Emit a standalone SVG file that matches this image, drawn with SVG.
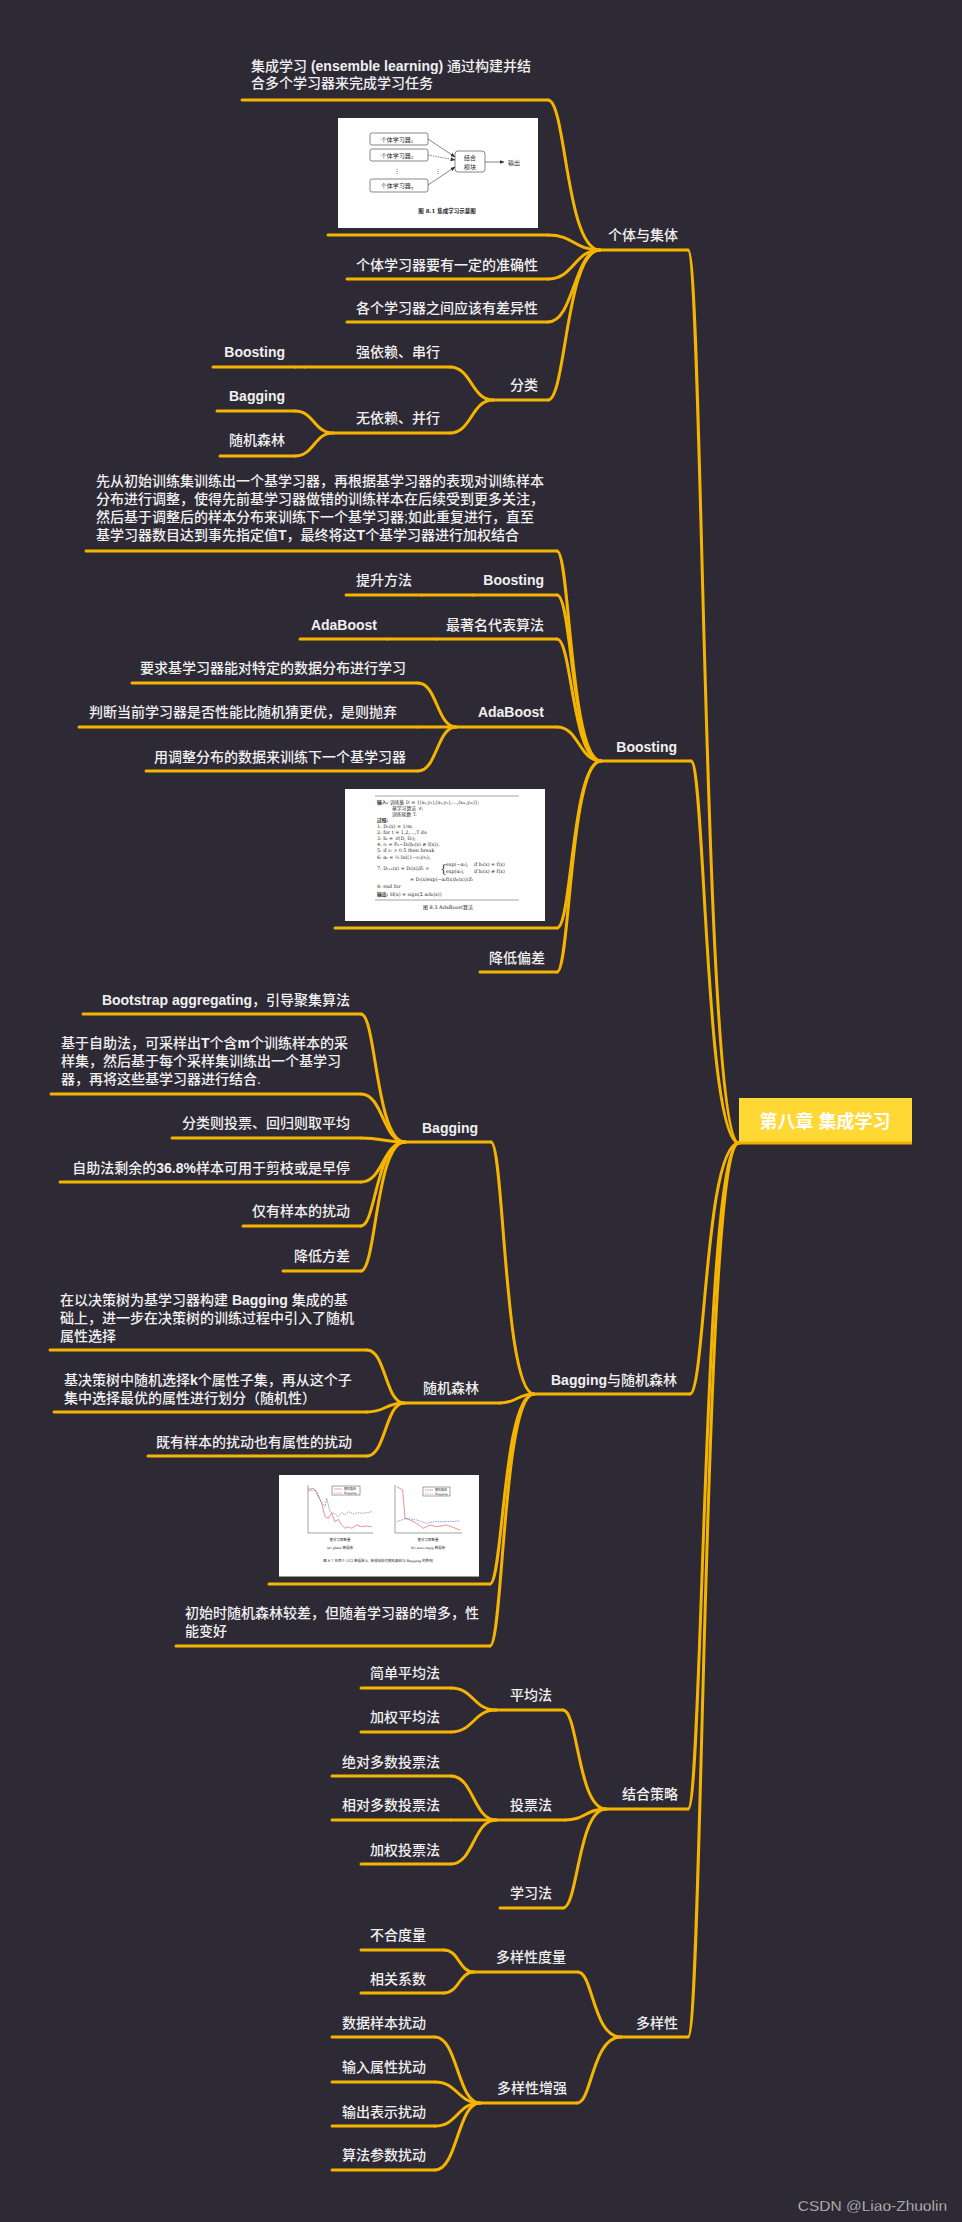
<svg xmlns="http://www.w3.org/2000/svg" width="962" height="2222" viewBox="0 0 962 2222">
<defs>
<style>
.t{font-family:"Liberation Sans","Noto Sans CJK SC",sans-serif;font-size:14px;fill:#f0f0f0;font-weight:500}
.e{text-anchor:end}
.b{font-weight:700}
.u{stroke:#f5b400;stroke-width:3;fill:none;stroke-linecap:round}
.c{stroke:#f5b400;stroke-width:3;fill:none;stroke-linecap:round}
.w{fill:#ffffff}
.it{font-family:"DejaVu Serif","Noto Sans CJK SC",serif;fill:#2a2a2a}
.ik{fill:none;stroke:#555;stroke-width:0.7}
.ax{fill:none;stroke:#444;stroke-width:0.5}
</style>
<marker id="sa" markerUnits="userSpaceOnUse" markerWidth="5" markerHeight="4" refX="4.5" refY="2" orient="auto"><path d="M0 0 L5 2 L0 4 Z" fill="#333"/></marker>
</defs>
<rect x="0" y="0" width="962" height="2222" fill="#2e2a35"/>

<g id="connectors">
<path class="c" d="M688 250 C703 250 703 1143 739 1143"/>
<path class="c" d="M691 761 C705 761 705 1143 739 1143"/>
<path class="c" d="M690 1394 C705 1394 705 1143 739 1143"/>
<path class="c" d="M688 1809 C703 1809 703 1143 739 1143"/>
<path class="c" d="M688 2037 C703 2037 703 1143 739 1143"/>
<path class="c" d="M548 100 C566 100 566 250 600 250"/>
<path class="c" d="M548 235 C574 235 574 250 600 250"/>
<path class="c" d="M548 279 C574 279 574 250 600 250"/>
<path class="c" d="M548 322 C574 322 574 250 600 250"/>
<path class="c" d="M548 400 C566 400 566 250 600 250"/>
<path class="c" d="M450 367 C471.5 367 471.5 400 493 400"/>
<path class="c" d="M450 433 C471.5 433 471.5 400 493 400"/>
<path class="c" d="M295 367 L305 367"/>
<path class="c" d="M295 411 C314 411 314 433 333 433"/>
<path class="c" d="M295 456 C314 456 314 433 333 433"/>
<path class="c" d="M557 551 C570 551 570 761 601 761"/>
<path class="c" d="M557 595 C572 595 572 761 601 761"/>
<path class="c" d="M557 639 C572 639 572 761 601 761"/>
<path class="c" d="M557 727 C579 727 579 761 601 761"/>
<path class="c" d="M557 928 C572 928 572 761 601 761"/>
<path class="c" d="M557 972 C570 972 570 761 601 761"/>
<path class="c" d="M422 595 L473 595"/>
<path class="c" d="M387 639 L437 639"/>
<path class="c" d="M418 683 C437 683 437 727 456 727"/>
<path class="c" d="M418 727 L456 727"/>
<path class="c" d="M418 771 C437 771 437 727 456 727"/>
<path class="c" d="M491 1142 C504 1142 504 1394 534 1394"/>
<path class="c" d="M500 1403 C517 1403 517 1394 534 1394"/>
<path class="c" d="M490 1584 C503 1584 503 1394 534 1394"/>
<path class="c" d="M490 1646 C503 1646 503 1394 534 1394"/>
<path class="c" d="M361 1014 C376 1014 376 1142 405 1142"/>
<path class="c" d="M361 1094 C383 1094 383 1142 405 1142"/>
<path class="c" d="M361 1138 C383 1138 383 1142 405 1142"/>
<path class="c" d="M361 1182 C383 1182 383 1142 405 1142"/>
<path class="c" d="M361 1226 C376 1226 376 1142 405 1142"/>
<path class="c" d="M361 1271 C376 1271 376 1142 405 1142"/>
<path class="c" d="M367 1350 C385.5 1350 385.5 1403 404 1403"/>
<path class="c" d="M367 1412 C385.5 1412 385.5 1403 404 1403"/>
<path class="c" d="M367 1456 C385.5 1456 385.5 1403 404 1403"/>
<path class="c" d="M563 1710 C578 1710 578 1809 606 1809"/>
<path class="c" d="M565 1820 C585.5 1820 585.5 1809 606 1809"/>
<path class="c" d="M563 1908 C578 1908 578 1809 606 1809"/>
<path class="c" d="M451 1688 C473.5 1688 473.5 1710 496 1710"/>
<path class="c" d="M451 1732 C473.5 1732 473.5 1710 496 1710"/>
<path class="c" d="M451 1776 C473.5 1776 473.5 1820 496 1820"/>
<path class="c" d="M451 1820 L496 1820"/>
<path class="c" d="M451 1864 C473.5 1864 473.5 1820 496 1820"/>
<path class="c" d="M578 1972 C593 1972 593 2037 621 2037"/>
<path class="c" d="M577 2103 C592 2103 592 2037 621 2037"/>
<path class="c" d="M444 1950 C459 1950 459 1972 474 1972"/>
<path class="c" d="M444 1993 C459 1993 459 1972 474 1972"/>
<path class="c" d="M435 2037 C457.5 2037 457.5 2103 480 2103"/>
<path class="c" d="M435 2082 C457.5 2082 457.5 2103 480 2103"/>
<path class="c" d="M435 2126 C457.5 2126 457.5 2103 480 2103"/>
<path class="c" d="M435 2170 C457.5 2170 457.5 2103 480 2103"/>
</g>

<g id="root">
<rect x="739" y="1098" width="173" height="46" fill="#ffd834"/>
<path d="M739 1143 H912" stroke="#f2ae00" stroke-width="3"/>
<text x="825" y="1128" text-anchor="middle" font-family="Liberation Sans,'Noto Sans CJK SC',sans-serif" font-size="18" font-weight="700" fill="#ffffff">第八章 集成学习</text>
</g>

<g id="n-A"><path class="u" d="M600 250 H688"/><text class="t e" x="678" y="240">个体与集体</text></g>
<g id="n-A1"><path class="u" d="M242 100 H548"/>
<text class="t" x="251" y="71">集成学习 <tspan class="b">(ensemble learning)</tspan> 通过构建并结</text>
<text class="t" x="251" y="88">合多个学习器来完成学习任务</text></g>
<g id="n-A2"><path class="u" d="M328 235 H548"/>
<rect class="w" x="338" y="118" width="200" height="110"/>
<g class="it" font-size="6">
<rect class="ik" x="370" y="133" width="58" height="12" rx="2"/>
<rect class="ik" x="370" y="149" width="58" height="12" rx="2"/>
<rect class="ik" x="370" y="179" width="58" height="13" rx="2"/>
<rect class="ik" x="455" y="151" width="30" height="21" rx="3"/>
<text x="397" y="141.5" text-anchor="middle">个体学习器<tspan font-size="4" dy="1.5">1</tspan></text>
<text x="397" y="157.5" text-anchor="middle">个体学习器<tspan font-size="4" dy="1.5">2</tspan></text>
<text x="397" y="188" text-anchor="middle">个体学习器<tspan font-size="4" dy="1.5">T</tspan></text>
<text x="397" y="173" text-anchor="middle">⋮</text>
<text x="438" y="173" text-anchor="middle">⋮</text>
<text x="470" y="160" text-anchor="middle">结合</text>
<text x="470" y="168.5" text-anchor="middle">模块</text>
<text x="508" y="164.5">输出</text>
<text x="447" y="213" text-anchor="middle" font-size="5.5" font-weight="700">图 8.1  集成学习示意图</text>
</g>
<g fill="none" stroke="#333" stroke-width="0.6" marker-end="url(#sa)">
<path d="M428 139 L455 157"/><path d="M428 155 L455 160" stroke-dasharray="1.5 1"/><path d="M428 185 L455 167"/><path d="M485 162 L504 162"/>
</g>
</g>
<g id="n-A3"><path class="u" d="M347 279 H548"/><text class="t e" x="538" y="270">个体学习器要有一定的准确性</text></g>
<g id="n-A4"><path class="u" d="M347 322 H548"/><text class="t e" x="538" y="313">各个学习器之间应该有差异性</text></g>
<g id="n-A5"><path class="u" d="M493 400 H548"/><text class="t e" x="538" y="390">分类</text></g>
<g id="n-A5a"><path class="u" d="M305 367 H450"/><text class="t e" x="440" y="357">强依赖、串行</text></g>
<g id="n-A5a1"><path class="u" d="M213 367 H295"/><text class="t e b" x="285" y="357">Boosting</text></g>
<g id="n-A5b"><path class="u" d="M333 433 H450"/><text class="t e" x="440" y="423">无依赖、并行</text></g>
<g id="n-A5b1"><path class="u" d="M217 411 H295"/><text class="t e b" x="285" y="401">Bagging</text></g>
<g id="n-A5b2"><path class="u" d="M220 456 H295"/><text class="t e" x="285" y="445">随机森林</text></g>

<g id="n-B"><path class="u" d="M601 761 H691"/><text class="t e b" x="677" y="752">Boosting</text></g>
<g id="n-B1"><path class="u" d="M86 551 H557"/>
<text class="t" x="96" y="486">先从初始训练集训练出一个基学习器，再根据基学习器的表现对训练样本</text>
<text class="t" x="96" y="504">分布进行调整，使得先前基学习器做错的训练样本在后续受到更多关注，</text>
<text class="t" x="96" y="522">然后基于调整后的样本分布来训练下一个基学习器;如此重复进行，直至</text>
<text class="t" x="96" y="540">基学习器数目达到事先指定值<tspan class="b">T</tspan>，最终将这<tspan class="b">T</tspan>个基学习器进行加权结合</text></g>
<g id="n-B2"><path class="u" d="M473 595 H557"/><text class="t e b" x="544" y="585">Boosting</text></g>
<g id="n-B2a"><path class="u" d="M346 595 H422"/><text class="t e" x="412" y="585">提升方法</text></g>
<g id="n-B3"><path class="u" d="M437 639 H557"/><text class="t e" x="544" y="630">最著名代表算法</text></g>
<g id="n-B3a"><path class="u" d="M300 639 H387"/><text class="t e b" x="377" y="630">AdaBoost</text></g>
<g id="n-B4"><path class="u" d="M456 727 H557"/><text class="t e b" x="544" y="717">AdaBoost</text></g>
<g id="n-B4a"><path class="u" d="M132 683 H418"/><text class="t e" x="406" y="673">要求基学习器能对特定的数据分布进行学习</text></g>
<g id="n-B4b"><path class="u" d="M79 727 H418"/><text class="t e" x="397" y="717">判断当前学习器是否性能比随机猜更优，是则抛弃</text></g>
<g id="n-B4c"><path class="u" d="M146 771 H418"/><text class="t e" x="406" y="762">用调整分布的数据来训练下一个基学习器</text></g>
<g id="n-B5"><path class="u" d="M335 928 H557"/>
<rect class="w" x="345" y="789" width="200" height="132"/>
<path class="ax" d="M375 796 H519 M375 900 H519" stroke-width="0.7"/>
<g class="it" font-size="4.8">
<text x="377" y="803.5"><tspan font-weight="700">输入:</tspan> 训练集 D = {(x₁,y₁),(x₂,y₂),…,(xₘ,yₘ)};</text>
<text x="392" y="809.5">基学习算法 ℒ;</text>
<text x="392" y="815.5">训练轮数 T.</text>
<text x="377" y="822" font-weight="700">过程:</text>
<text x="377" y="828">1: D₁(x) = 1/m.</text>
<text x="377" y="834">2: for t = 1,2,…,T do</text>
<text x="377" y="840">3:    hₜ = ℒ(D, Dₜ);</text>
<text x="377" y="846">4:    εₜ = Pₓ~Dₜ(hₜ(x) ≠ f(x));</text>
<text x="377" y="852">5:    if εₜ &gt; 0.5 then break</text>
<text x="377" y="859">6:    αₜ = ½ ln((1−εₜ)/εₜ);</text>
<text x="377" y="870">7:    Dₜ₊₁(x) = Dₜ(x)/Zₜ ×</text>
<text x="440" y="872" font-size="11">{</text>
<text x="446" y="866">exp(−αₜ),</text>
<text x="446" y="873">exp(αₜ),</text>
<text x="474" y="866">if hₜ(x) = f(x)</text>
<text x="474" y="873">if hₜ(x) ≠ f(x)</text>
<text x="410" y="881">= Dₜ(x)exp(−αₜf(x)hₜ(x))/Zₜ</text>
<text x="377" y="888">8: end for</text>
<text x="377" y="895.5"><tspan font-weight="700">输出:</tspan> H(x) = sign(Σ αₜhₜ(x))</text>
<text x="448" y="909" text-anchor="middle" font-size="5">图 8.3  AdaBoost算法</text>
</g>
</g>
<g id="n-B6"><path class="u" d="M480 972 H557"/><text class="t e" x="545" y="963">降低偏差</text></g>

<g id="n-C"><path class="u" d="M534 1394 H690"/><text class="t e" x="677" y="1385"><tspan class="b">Bagging</tspan>与随机森林</text></g>
<g id="n-C1"><path class="u" d="M405 1142 H491"/><text class="t e b" x="478" y="1133">Bagging</text></g>
<g id="n-C1a"><path class="u" d="M83 1014 H361"/><text class="t e" x="350" y="1005"><tspan class="b">Bootstrap aggregating</tspan>，引导聚集算法</text></g>
<g id="n-C1b"><path class="u" d="M51 1094 H361"/>
<text class="t" x="61" y="1048">基于自助法，可采样出<tspan class="b">T</tspan>个含<tspan class="b">m</tspan>个训练样本的采</text>
<text class="t" x="61" y="1066">样集，然后基于每个采样集训练出一个基学习</text>
<text class="t" x="61" y="1084">器，再将这些基学习器进行结合.</text></g>
<g id="n-C1c"><path class="u" d="M172 1138 H361"/><text class="t e" x="350" y="1128">分类则投票、回归则取平均</text></g>
<g id="n-C1d"><path class="u" d="M60 1182 H361"/><text class="t e" x="350" y="1173">自助法剩余的<tspan class="b">36.8%</tspan>样本可用于剪枝或是早停</text></g>
<g id="n-C1e"><path class="u" d="M243 1226 H361"/><text class="t e" x="350" y="1216">仅有样本的扰动</text></g>
<g id="n-C1f"><path class="u" d="M283 1271 H361"/><text class="t e" x="350" y="1261">降低方差</text></g>
<g id="n-C2"><path class="u" d="M404 1403 H500"/><text class="t e" x="479" y="1393">随机森林</text></g>
<g id="n-C2a"><path class="u" d="M50 1350 H367"/>
<text class="t" x="60" y="1305">在以决策树为基学习器构建 <tspan class="b">Bagging</tspan> 集成的基</text>
<text class="t" x="60" y="1323">础上，进一步在决策树的训练过程中引入了随机</text>
<text class="t" x="60" y="1341">属性选择</text></g>
<g id="n-C2b"><path class="u" d="M54 1412 H367"/>
<text class="t" x="64" y="1385">基决策树中随机选择<tspan class="b">k</tspan>个属性子集，再从这个子</text>
<text class="t" x="64" y="1403">集中选择最优的属性进行划分（随机性）</text></g>
<g id="n-C2c"><path class="u" d="M148 1456 H367"/><text class="t e" x="352" y="1447">既有样本的扰动也有属性的扰动</text></g>
<g id="n-C3"><path class="u" d="M269 1584 H490"/>
<rect class="w" x="279" y="1475" width="200" height="102"/>
<path d="M279 1576.5 H479" stroke="#9a9a9a" stroke-width="1"/>
<path class="ax" d="M308 1485 V1533 H373 M395 1485 V1533 H462"/>
<polyline fill="none" stroke="#d9485a" stroke-width="0.6" points="308.3,1489.3 313.3,1488.3 316.7,1491.7 321.7,1503.3 325,1516.7 328.3,1518.3 331.7,1513.3 335,1521.7 338.3,1519.3 341.7,1525 345,1528.3 348.3,1526.7 351.7,1528.3 356.7,1525 361.7,1526.7 366.7,1526 371.7,1526.7"/>
<polyline fill="none" stroke="#4a55b8" stroke-width="0.6" stroke-dasharray="1.5 1" points="308.3,1490.7 315,1490 320,1500 325,1506.7 326.7,1498.3 330,1511.7 335,1514 338.3,1516.7 341.7,1512.7 345,1515 348.3,1511.7 353.3,1514 358.3,1512.7 363.3,1513.3 371.7,1511.7"/>
<polyline fill="none" stroke="#d9485a" stroke-width="0.6" points="396.7,1486.7 402.7,1490 405,1518.3 410,1520 416.7,1523.3 423.3,1528.3 430,1525 436.7,1526.7 446.7,1525 460,1530"/>
<polyline fill="none" stroke="#4a55b8" stroke-width="0.6" stroke-dasharray="1.5 1" points="396.7,1521.7 406.7,1518.3 416.7,1520 426.7,1523.3 433.3,1521.7 446.7,1521.7 460,1521"/>
<rect class="ax" x="332" y="1486" width="28" height="9"/>
<rect class="ax" x="423" y="1487" width="27" height="9"/>
<path d="M334 1489 H342 M425 1490 H433" stroke="#d9485a" stroke-width="0.5"/>
<path d="M334 1493 H342 M425 1494 H433" stroke="#4a55b8" stroke-width="0.5" stroke-dasharray="1 0.7"/>
<g class="it" font-size="3">
<text x="344" y="1490">随机森林</text><text x="344" y="1494">Bagging</text>
<text x="435" y="1491">随机森林</text><text x="435" y="1495">Bagging</text>
<text x="340" y="1541" text-anchor="middle" font-size="3.5">基学习器数量</text>
<text x="428" y="1541" text-anchor="middle" font-size="3.5">基学习器数量</text>
<text x="340" y="1549" text-anchor="middle" font-size="3.5">(a) glass 数据集</text>
<text x="428" y="1549" text-anchor="middle" font-size="3.5">(b) auto-mpg 数据集</text>
<text x="378" y="1562" text-anchor="middle" font-size="3.5">图 8.7  在两个 UCI 数据集上, 集成规模对随机森林与 Bagging 的影响</text>
</g>
</g>
<g id="n-C4"><path class="u" d="M176 1646 H490"/>
<text class="t" x="185" y="1618">初始时随机森林较差，但随着学习器的增多，性</text>
<text class="t" x="185" y="1636">能变好</text></g>

<g id="n-D"><path class="u" d="M606 1809 H688"/><text class="t e" x="678" y="1799">结合策略</text></g>
<g id="n-D1"><path class="u" d="M496 1710 H563"/><text class="t e" x="552" y="1700">平均法</text></g>
<g id="n-D1a"><path class="u" d="M361 1688 H451"/><text class="t e" x="440" y="1678">简单平均法</text></g>
<g id="n-D1b"><path class="u" d="M361 1732 H451"/><text class="t e" x="440" y="1722">加权平均法</text></g>
<g id="n-D2"><path class="u" d="M496 1820 H565"/><text class="t e" x="552" y="1810">投票法</text></g>
<g id="n-D2a"><path class="u" d="M332 1776 H451"/><text class="t e" x="440" y="1767">绝对多数投票法</text></g>
<g id="n-D2b"><path class="u" d="M332 1820 H451"/><text class="t e" x="440" y="1810">相对多数投票法</text></g>
<g id="n-D2c"><path class="u" d="M361 1864 H451"/><text class="t e" x="440" y="1855">加权投票法</text></g>
<g id="n-D3"><path class="u" d="M500 1908 H563"/><text class="t e" x="552" y="1898">学习法</text></g>

<g id="n-E"><path class="u" d="M621 2037 H688"/><text class="t e" x="678" y="2028">多样性</text></g>
<g id="n-E1"><path class="u" d="M474 1972 H578"/><text class="t e" x="566" y="1962">多样性度量</text></g>
<g id="n-E1a"><path class="u" d="M361 1950 H444"/><text class="t e" x="426" y="1940">不合度量</text></g>
<g id="n-E1b"><path class="u" d="M361 1993 H444"/><text class="t e" x="426" y="1984">相关系数</text></g>
<g id="n-E2"><path class="u" d="M480 2103 H577"/><text class="t e" x="567" y="2093">多样性增强</text></g>
<g id="n-E2a"><path class="u" d="M332 2037 H435"/><text class="t e" x="426" y="2028">数据样本扰动</text></g>
<g id="n-E2b"><path class="u" d="M332 2082 H435"/><text class="t e" x="426" y="2072">输入属性扰动</text></g>
<g id="n-E2c"><path class="u" d="M332 2126 H435"/><text class="t e" x="426" y="2117">输出表示扰动</text></g>
<g id="n-E2d"><path class="u" d="M332 2170 H435"/><text class="t e" x="426" y="2160">算法参数扰动</text></g>

<text x="947" y="2211" text-anchor="end" font-family="Liberation Sans,Arial,sans-serif" font-size="15.5" fill="#d4d4d4" stroke="#1e1b22" stroke-width="0.3">CSDN @Liao-Zhuolin</text>
</svg>
